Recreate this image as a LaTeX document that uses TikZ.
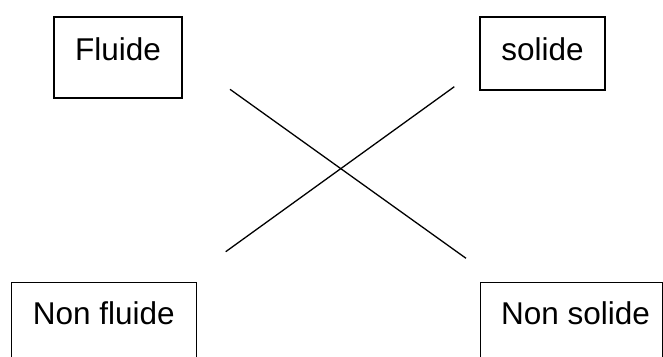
\documentclass[tikz,border=0pt]{standalone}
\usepackage{fontspec}
\setmainfont{Liberation Sans}
\begin{document}
\begin{tikzpicture}[x=1pt,y=-1pt,
  box/.style={draw, line width=1.3pt, inner xsep=0pt, inner ysep=19.5pt,
    font=\fontsize{31.5}{36}\selectfont, text height=23pt},
  link/.style={line width=1.3pt}]
  \clip (0,0) rectangle (663,356);
  % top boxes
  \node[box, minimum width=128pt, minimum height=81pt, text depth=18pt]
    (fluide) at (118,57.5) {Fluide};
  \node[box, minimum width=125pt, minimum height=73pt, text depth=10pt]
    (solide) at (542.5,53.5) {solide};
  % bottom boxes, cut by the lower edge
  \node[box, anchor=north west, minimum width=185pt, minimum height=120pt, text depth=58pt]
    (nonfluide) at (10.7,281.7) {Non fluide};
  \node[box, anchor=north west, minimum width=182pt, minimum height=120pt, text depth=58pt]
    (nonsolide) at (480,281.7) {\hspace{8pt}Non solide};
  % crossing lines
  \coordinate (a1) at (230,89.3);
  \coordinate (a2) at (466,258.3);
  \coordinate (b1) at (225.7,251.7);
  \coordinate (b2) at (454.3,86.7);
  \draw[link] (a1) -- (a2);
  \draw[link] (b1) -- (b2);
\end{tikzpicture}
\end{document}
